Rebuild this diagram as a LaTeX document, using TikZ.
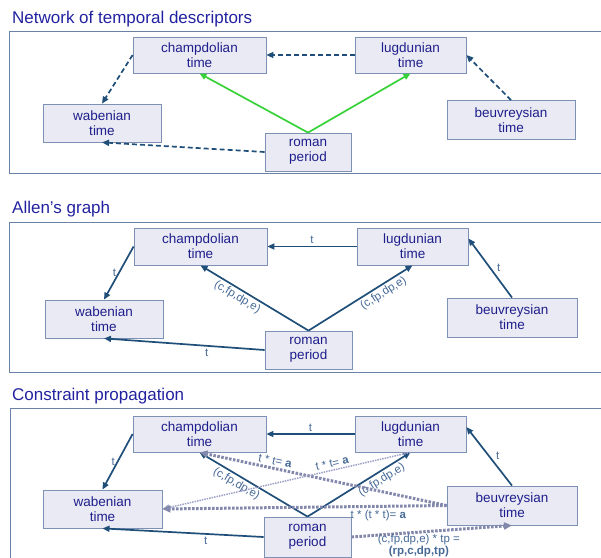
\documentclass[tikz,border=0pt]{standalone}
\usepackage{fontspec}
\setmainfont{Liberation Sans}
\usepackage{xcolor}
\usetikzlibrary{arrows.meta, positioning}
\definecolor{titleblue}{RGB}{34,34,160}
\definecolor{textblue}{RGB}{30,30,140}
\definecolor{lineblue}{RGB}{31,78,121}
\definecolor{lblblue}{RGB}{70,105,150}
\definecolor{boxfill}{RGB}{234,234,244}
\definecolor{boxdraw}{RGB}{125,145,180}
\definecolor{framedraw}{RGB}{105,130,165}
\definecolor{propgray}{RGB}{130,135,172}
\definecolor{proplight}{RGB}{158,162,200}
\definecolor{linkgreen}{RGB}{55,210,55}

\begin{document}
\begin{tikzpicture}[x=1pt, y=-1pt,
  tbox/.style={rectangle, draw=boxdraw, fill=boxfill, line width=0.8pt,
               minimum width=#1, minimum height=37pt, inner sep=0pt,
               align=center, font=\fontsize{13.5}{15}\selectfont, text=textblue},
  tbox/.default=120pt,
  title/.style={anchor=base west, inner sep=0pt, text=titleblue,
                font=\fontsize{17}{19}\selectfont},
  frame/.style={draw=framedraw, line width=0.8pt},
  lbl/.style={font=\fontsize{11.5}{12}\selectfont, text=lblblue, inner sep=2pt},
  dasharrow/.style={-{Triangle[length=7pt, width=6pt]}, line width=1.7pt,
                    draw=lineblue, dash pattern=on 5pt off 3pt},
  greenarrow/.style={-{Triangle[length=7pt, width=6pt]}, line width=1.7pt,
                     draw=linkgreen},
  arrow/.style={-{Triangle[length=7pt, width=6pt]}, line width=1.7pt,
                draw=lineblue},
  proparrow/.style={-{Triangle[length=8pt, width=7pt]}, line width=3pt,
                    draw=propgray, dash pattern=on 2.5pt off 1.5pt},
  propthin/.style={-{Triangle[length=7pt, width=6pt]}, line width=1.5pt,
                   draw=proplight, dash pattern=on 1.5pt off 1pt}
]
  \useasboundingbox (0,0) rectangle (601,557);

  % network of temporal descriptors
  \node[title] (title1) at (12,23.5) {Network of temporal descriptors};
  \draw[frame] (9,31) rectangle (640,173);
  \node[tbox=133pt, minimum height=36pt] (champ1) at (199.5,55) {champdolian\\time};
  \node[tbox=111pt, minimum height=36pt] (lugd1) at (410.5,55) {lugdunian\\time};
  \node[tbox=118pt, minimum height=38pt] (waben1) at (102,123) {wabenian\\time};
  \node[tbox=128pt, minimum height=39pt] (beuv1) at (511,120) {beuvreysian\\time};
  \node[tbox=86pt, minimum height=38pt] (roman1) at (308,152) {roman\\period};
  \draw[dasharrow] (lugd1.west) -- (champ1.east);
  \draw[dasharrow] (champ1.west) -- (waben1.north);
  \draw[dasharrow] (beuv1.north) -- (lugd1.east);
  \draw[dasharrow] (roman1.west) -- (waben1.south);
  \draw[greenarrow] (roman1.north) -- (champ1.south);
  \draw[greenarrow] (roman1.north) -- (lugd1.south);

  % Allen's graph
  \node[title] (title2) at (12,213.5) {Allen's graph};
  \draw[frame] (9,222) rectangle (640,372);
  \node[tbox=133pt] (champ2) at (200.5,246.5) {champdolian\\time};
  \node[tbox=111pt] (lugd2) at (412.5,246.5) {lugdunian\\time};
  \node[tbox=118pt, minimum height=38pt] (waben2) at (104,319) {wabenian\\time};
  \node[tbox=130pt, minimum height=39pt] (beuv2) at (512,317.5) {beuvreysian\\time};
  \node[tbox=87pt, minimum height=38pt] (roman2) at (308.5,350) {roman\\period};
  \draw[arrow] (lugd2.west) -- node[lbl, above] {t} (champ2.east);
  \draw[arrow] (champ2.west) -- node[lbl, left] {t} (waben2.north);
  \draw[arrow] (beuv2.north) -- node[lbl, right=4pt] {t} ([yshift=8pt]lugd2.east);
  \draw[arrow] (roman2.west) -- node[lbl, below, pos=0.36] {t} (waben2.south);
  \draw[arrow] (roman2.north) -- node[lbl, sloped, below, pos=0.62] {(c,fp,dp,e)} (champ2.south);
  \draw[arrow] (roman2.north) -- node[lbl, sloped, below, pos=0.68] {(c,fp,dp,e)} (lugd2.south);

  % constraint propagation
  \node[title] (title3) at (12,400.5) {Constraint propagation};
  \draw[frame] (10,408) rectangle (640,600);
  \node[tbox=133pt, minimum height=36pt] (champ3) at (199.5,434) {champdolian\\time};
  \node[tbox=111pt, minimum height=36pt] (lugd3) at (410.5,434) {lugdunian\\time};
  \node[tbox=119pt, minimum height=38pt] (waben3) at (102.5,509) {wabenian\\time};
  \node[tbox=130pt, minimum height=39pt] (beuv3) at (512,505.5) {beuvreysian\\time};
  \node[tbox=87pt, minimum height=40pt] (roman3) at (307.5,537) {roman\\period};
  \draw[arrow] (lugd3.west) -- node[lbl, above] {t} (champ3.east);
  \draw[arrow] (champ3.west) -- node[lbl, left] {t} (waben3.north);
  \draw[arrow] (beuv3.north) -- node[lbl, right=4pt] {t} ([yshift=7pt]lugd3.east);
  \draw[arrow] (roman3.west) -- node[lbl, below, pos=0.36] {t} (waben3.south);
  \draw[arrow] (roman3.north) -- node[lbl, sloped, below, pos=0.62] {(c,fp,dp,e)} (champ3.south);
  \draw[arrow] (roman3.north) -- node[lbl, sloped, below, pos=0.68] {(c,fp,dp,e)} (lugd3.south);
  \draw[proparrow] (beuv3.west) -- node[lbl, sloped, above, pos=0.7] {t * t= \textbf{a}} (champ3.south);
  \draw[propthin] (lugd3.south) -- node[lbl, sloped, above, pos=0.31] {t * t= \textbf{a}} (waben3.east);
  \draw[proparrow] (beuv3.west) -- node[lbl, below, pos=0.24] {t * (t * t)= \textbf{a}} (waben3.east);
  \draw[proparrow] (roman3.east) -- node[lbl, below, pos=0.42, align=center, inner sep=1pt]
    {(c,fp,dp,e) * tp =\\\textbf{(rp,c,dp,tp)}} (beuv3.south);
\end{tikzpicture}
\end{document}
